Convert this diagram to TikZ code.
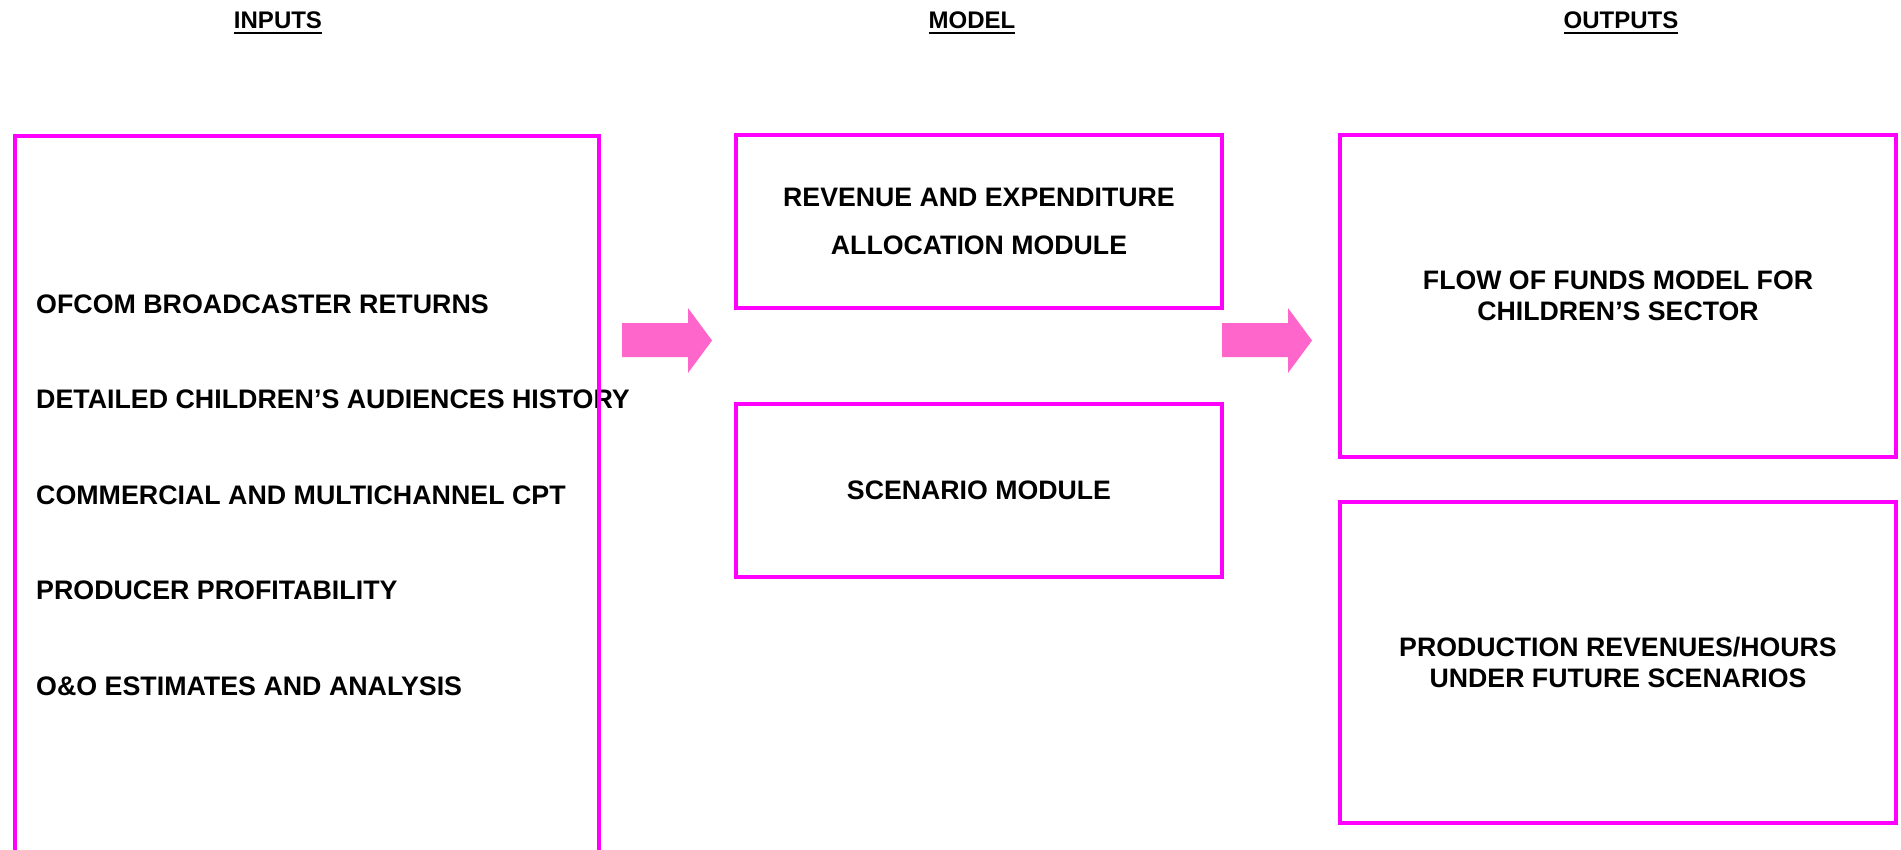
\documentclass[tikz,border=0pt]{standalone}
\usepackage{fontspec}
\setmainfont{Liberation Sans}
\definecolor{mag}{RGB}{255,0,255}
\definecolor{arrowpink}{RGB}{255,102,204}
\newcommand\ulhead[1]{\vtop{\hbox{#1}\kern3.5pt\hrule height 2.7pt}}
\begin{document}
\begin{tikzpicture}[x=1pt,y=-1pt,
  box/.style={draw=mag, line width=3.5pt, inner sep=0pt, align=center,
    font=\bfseries\fontsize{26.7}{31}\selectfont},
  item/.style={anchor=base west, inner sep=0pt, font=\bfseries\fontsize{26.8}{31}\selectfont},
  head/.style={anchor=base, inner sep=0pt, font=\bfseries\fontsize{24}{27}\selectfont},
  blockarrow/.style={fill=arrowpink, draw=none}]
\clip (0,0) rectangle (1901,849);
\fill[white] (0,0) rectangle (1901,849);
% headers
\node[head] (hin)  at (278,28)  {\ulhead{INPUTS}};
\node[head] (hmod) at (972,28)  {\ulhead{MODEL}};
\node[head] (hout) at (1621,28) {\ulhead{OUTPUTS}};
% input items
\node[item] (i1) at (36,313)   {OFCOM BROADCASTER RETURNS};
\node[item] (i2) at (36,408.5) {DETAILED CHILDREN’S AUDIENCES HISTORY};
\node[item] (i3) at (36,504)   {COMMERCIAL AND MULTICHANNEL CPT};
\node[item] (i4) at (36,599.5) {PRODUCER PROFITABILITY};
\node[item] (i5) at (36,695)   {O\&O ESTIMATES AND ANALYSIS};
% boxes
\node[box, anchor=north west, minimum width=584, minimum height=760] (inbox) at (13,134) {};
\node[box, minimum width=486, minimum height=173, font=\bfseries\fontsize{26.7}{48}\selectfont]
  (rev) at (979,221.5) {REVENUE AND EXPENDITURE\\ALLOCATION MODULE};
\node[box, minimum width=486, minimum height=173] (scen) at (979,490.5) {SCENARIO MODULE};
\node[box, minimum width=556, minimum height=322] (flow) at (1618,296) {FLOW OF FUNDS MODEL FOR\\CHILDREN’S SECTOR};
\node[box, minimum width=556, minimum height=321] (prod) at (1618,662.5) {PRODUCTION REVENUES/HOURS\\UNDER FUTURE SCENARIOS};
% block arrows
\fill[blockarrow] (622,323) -- (688,323) -- (688,308) -- (712,340.5) -- (688,373) -- (688,357) -- (622,357) -- cycle;
\fill[blockarrow] (1222,323) -- (1288,323) -- (1288,308) -- (1312,340.5) -- (1288,373) -- (1288,357) -- (1222,357) -- cycle;
\end{tikzpicture}
\end{document}
